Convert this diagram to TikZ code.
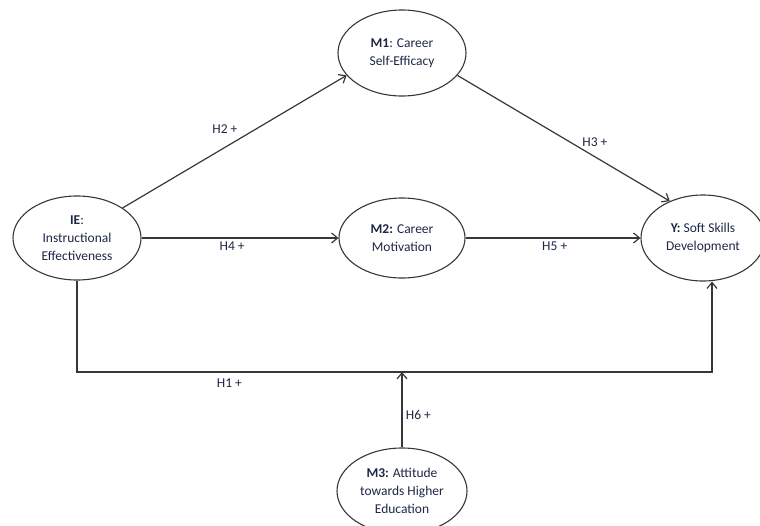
\documentclass[tikz,border=0pt]{standalone}
\usepackage{fontspec}
\setmainfont{Carlito}
\usepackage{xcolor}
\usetikzlibrary{arrows.meta,positioning,shapes.geometric}
\definecolor{textblue}{RGB}{30,38,70}
\definecolor{linegray}{RGB}{55,55,55}
\tikzset{%
	latent/.style   = {draw=linegray, line width=1.1pt, ellipse, minimum width=128pt, minimum height=84pt, inner sep=0pt, align=center, text=textblue, font=\fontsize{13.5}{18}\selectfont}, % Construct
	link/.style     = {draw=linegray, line width=1.2pt, ->}, % Path
	hyp/.style      = {text=textblue, font=\fontsize{13.5}{16}\selectfont}, % Hypothesis
	waypoint/.style = {coordinate},
}

\begin{document}
\begin{tikzpicture}[x=1pt,y=-1pt,node distance=325pt,>={Straight Barb[length=6pt,width=10pt]}]
	\useasboundingbox (0,0) rectangle (760,525);
	\node [latent] (ie) at (77,238) {\textbf{IE}:\\Instructional\\Effectiveness};
	\node [latent,minimum width=126pt,minimum height=80pt] (m2) [right of=ie] {\textbf{M2:} Career\\Motivation};
	\node [latent,minimum width=124pt,minimum height=86pt] (ssd) [right of=m2,node distance=301pt] {\textbf{Y:} Soft Skills\\Development};
	\node [latent,minimum height=86pt] (m1) [above of=m2,node distance=185pt] {\textbf{M1}: Career\\Self-Efficacy};
	\node [latent,minimum width=130pt,minimum height=86pt] (m3) [below of=m2,node distance=253pt] {\textbf{M3:} Attitude\\towards Higher\\Education};
	\node [waypoint] (h1r) at (712,372) {};
	
	\draw[link] (ie.north east) -- node[hyp,above left,pos=0.53] {H2 +} (m1.202);
	\draw[link] (m1.-22) -- node[hyp,above right,pos=0.57,yshift=-3pt] {H3 +} (ssd.132);
	\draw[link] (ie) -- node[hyp,below,pos=0.46] {H4 +} (m2);
	\draw[link] (m2) -- node[hyp,below,pos=0.51] {H5 +} (ssd);
	\draw[link] (ie.south) |- node[hyp,below=3pt,pos=0.62] {H1 +} (h1r) -- (h1r |- ssd.south);
	\draw[link] (m3.north) -- node[hyp,right,pos=0.43] {H6 +} (m3.north |- h1r);
\end{tikzpicture}
\end{document}
